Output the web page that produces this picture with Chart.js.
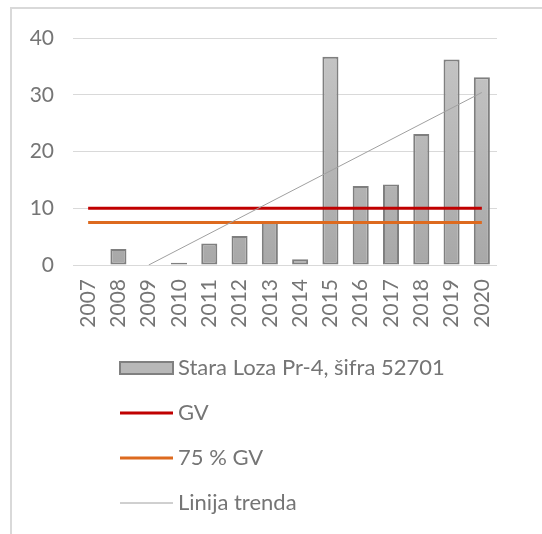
<!DOCTYPE html>
<html>
<head>
<meta charset="utf-8">
<script src="https://cdn.jsdelivr.net/npm/chart.js@4/dist/chart.umd.min.js"></script>
<style>
  html, body { margin: 0; padding: 0; background: #fff; }
  #wrap { width: 542px; height: 534px; position: relative; }
</style>
</head>
<body>
<div id="wrap"><canvas id="chart"></canvas></div>
<script>
// Data
const years = ['2007', '2008', '2009', '2010', '2011', '2012', '2013',
               '2014', '2015', '2016', '2017', '2018', '2019', '2020'];
const measured = [null, 2.8, null, 0.4, 3.8, 5.1, 7.6, 1.0, 36.7, 13.9, 14.2, 23.1, 36.2, 33.1];
const gv = [10, 10, 10, 10, 10, 10, 10, 10, 10, 10, 10, 10, 10, 10];
const gv75 = [7.5, 7.5, 7.5, 7.5, 7.5, 7.5, 7.5, 7.5, 7.5, 7.5, 7.5, 7.5, 7.5, 7.5];
// trend line endpoints as seen (clipped at 0 before 2009)
const trend = [null, null, 0, null, null, null, null, null, null, null, null, null, null, 30.4];
const seriesLabels = ['Stara Loza Pr-4, šifra 52701', 'GV', '75 % GV', 'Linija trenda'];
const yTicks = [0, 10, 20, 30, 40];

const FONT = 'Lato, "Liberation Sans", sans-serif';
const TEXT = '#757575';

// gray frame on the top and left edges
const framePlugin = {
    id: 'frame',
    beforeDraw(chart) {
        const c = chart.ctx;
        c.save();
        c.strokeStyle = '#d9d9d9';
        c.lineWidth = 2;
        c.beginPath();
        c.moveTo(11, chart.height);
        c.lineTo(11, 8);
        c.lineTo(chart.width, 8);
        c.stroke();
        c.restore();
    }
};

// legend stacked one item per row, like the Excel original
const stackedLegend = {
    id: 'stackedLegend',
    afterDraw(chart) {
        const c = chart.ctx;
        const x0 = 120, boxW = 53, rowH = 45, firstY = 368;
        c.save();
        c.font = '22px ' + FONT;
        c.textBaseline = 'middle';
        c.textAlign = 'left';
        chart.data.datasets.forEach((ds, i) => {
            const y = firstY + i * rowH;
            if (ds.type === 'bar') {
                c.fillStyle = '#b8b8b8';
                c.strokeStyle = '#808080';
                c.lineWidth = 2;
                c.fillRect(x0, y - 6, boxW, 12);
                c.strokeRect(x0, y - 6, boxW, 12);
            } else {
                c.strokeStyle = ds.borderColor;
                c.lineWidth = ds.borderWidth;
                c.beginPath();
                c.moveTo(x0, y);
                c.lineTo(x0 + boxW, y);
                c.stroke();
            }
            c.fillStyle = TEXT;
            c.fillText(ds.label, x0 + boxW + 5, y);
        });
        c.restore();
    }
};

function barFill(context) {
    const { chart } = context;
    const area = chart.chartArea;
    if (!area) return '#b8b8b8';
    const g = chart.ctx.createLinearGradient(0, area.top, 0, area.bottom);
    g.addColorStop(0, '#c6c6c6');
    g.addColorStop(1, '#a8a8a8');
    return g;
}

new Chart(document.getElementById('chart'), {
    data: {
        labels: years,
        datasets: [{
            type: 'bar',
            label: seriesLabels[0],
            data: measured,
            backgroundColor: barFill,
            borderColor: '#7f7f7f',
            borderWidth: 2,
            borderSkipped: false,
            barPercentage: 0.53,
            categoryPercentage: 1,
            order: 2
        }, {
            type: 'line',
            label: seriesLabels[1],
            data: gv,
            borderColor: '#c00000',
            borderWidth: 3,
            pointRadius: 0,
            order: 1
        }, {
            type: 'line',
            label: seriesLabels[2],
            data: gv75,
            borderColor: '#dd6a1f',
            borderWidth: 3,
            pointRadius: 0,
            order: 1
        }, {
            type: 'line',
            label: seriesLabels[3],
            data: trend,
            borderColor: '#a0a0a0',
            borderWidth: 1,
            pointRadius: 0,
            spanGaps: true,
            order: 0
        }]
    },
    options: {
        responsive: true,
        maintainAspectRatio: false,
        animation: false,
        layout: { padding: { top: 38, right: 45, bottom: 199, left: 0 } },
        plugins: {
            legend: { display: false },
            tooltip: { enabled: false }
        },
        scales: {
            x: {
                offset: true,
                grid: { display: false, drawTicks: false },
                border: { display: false },
                ticks: {
                    autoSkip: false,
                    minRotation: 90,
                    maxRotation: 90,
                    padding: 14,
                    color: TEXT,
                    font: { family: FONT, size: 21 }
                },
                afterFit(scale) { scale.height = 70; }
            },
            y: {
                min: 0,
                max: 40,
                afterBuildTicks(scale) { scale.ticks = yTicks.map(v => ({ value: v })); },
                grid: { color: '#d9d9d9', lineWidth: 1, drawTicks: false },
                border: { display: false },
                ticks: {
                    padding: 19,
                    color: TEXT,
                    font: { family: FONT, size: 21 }
                },
                afterFit(scale) { scale.width = 73; }
            }
        }
    },
    plugins: [framePlugin, stackedLegend]
});
</script>
</body>
</html>
